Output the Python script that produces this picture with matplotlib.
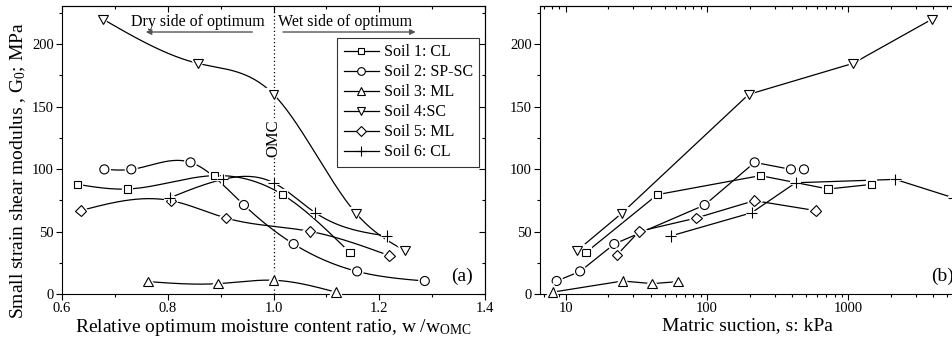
import numpy as np
import matplotlib
matplotlib.use("Agg")
import matplotlib.pyplot as plt
from matplotlib.lines import Line2D
from matplotlib.ticker import MultipleLocator, FormatStrFormatter
import matplotlib.patheffects as pe

plt.rcParams["font.family"] = ["Liberation Serif", "DejaVu Serif"]
plt.rcParams["mathtext.fontset"] = "custom"
plt.rcParams["mathtext.rm"] = "Liberation Serif"
plt.rcParams["mathtext.it"] = "Liberation Serif:italic"

# --- datos: G0 (MPa) vs w/wOMC ---
labels = ["Soil 1: CL", "Soil 2: SP-SC", "Soil 3: ML", "Soil 4:SC", "Soil 5: ML", "Soil 6: CL"]
markers = ["s", "o", "^", "v", "D", "+"]
msizes = [5.5, 6.5, 7, 7, 5.5, 8]

w1 = [0.629, 0.724, 0.888, 1.017, 1.144]
g1 = [87.7, 84.0, 94.7, 79.5, 33.3]
w2 = [0.680, 0.731, 0.843, 0.944, 1.038, 1.158, 1.286]
g2 = [99.7, 99.7, 105.3, 71.2, 40.0, 18.1, 10.4]
w3 = [0.763, 0.895, 1.000, 1.118]
g3 = [9.9, 8.3, 11.0, 1.5]
w4 = [0.678, 0.857, 1.000, 1.156, 1.248]
g4 = [219.7, 184.5, 159.7, 64.5, 34.7]
w5 = [0.635, 0.806, 0.910, 1.069, 1.219]
g5 = [66.7, 74.7, 60.8, 50.1, 30.7]
w6 = [0.804, 0.904, 1.000, 1.079, 1.214]
g6 = [77.0, 91.7, 89.0, 65.0, 46.4]

# --- datos: G0 (MPa) vs succion matricial (kPa) ---
s1 = [13.9, 44.4, 238, 721, 1462]
h1 = [33.3, 79.5, 94.7, 84.0, 87.7]
s2 = [8.6, 12.6, 22.0, 96.0, 217, 392, 485]
h2 = [10.4, 18.1, 40.0, 71.2, 105.3, 99.7, 99.7]
s3 = [8.05, 25.2, 40.8, 62.1]
h3 = [1.5, 10.4, 8.3, 9.9]
s4 = [12.0, 24.8, 197, 1079, 3890]
h4 = [34.7, 64.5, 159.7, 184.5, 219.7]
s5 = [23.0, 33.0, 83.8, 216, 589]
h5 = [31.2, 50.1, 60.8, 74.7, 66.7]
s6 = [55.1, 206.5, 423, 2150, 5530]
h6 = [46.4, 65.0, 89.0, 91.7, 77.0]

ratio_data = [(w1, g1), (w2, g2), (w3, g3), (w4, g4), (w5, g5), (w6, g6)]
suction_data = [(s1, h1), (s2, h2), (s3, h3), (s4, h4), (s5, h5), (s6, h6)]


def spline(x, y, n=300):
    # spline cubica natural para la curva suavizada (como Origin)
    x = np.asarray(x, float)
    y = np.asarray(y, float)
    h = np.diff(x)
    m = len(x)
    A = np.zeros((m, m))
    b = np.zeros(m)
    A[0, 0] = A[-1, -1] = 1
    for i in range(1, m - 1):
        A[i, i - 1] = h[i - 1]
        A[i, i] = 2 * (h[i - 1] + h[i])
        A[i, i + 1] = h[i]
        b[i] = 3 * ((y[i + 1] - y[i]) / h[i] - (y[i] - y[i - 1]) / h[i - 1])
    c = np.linalg.solve(A, b)
    bb = (y[1:] - y[:-1]) / h - h * (2 * c[:-1] + c[1:]) / 3
    d = (c[1:] - c[:-1]) / (3 * h)
    xs = np.linspace(x[0], x[-1], n)
    idx = np.clip(np.searchsorted(x, xs) - 1, 0, m - 2)
    dx = xs - x[idx]
    return xs, y[idx] + bb[idx] * dx + c[idx] * dx ** 2 + d[idx] * dx ** 3


def draw_markers(ax, x, y, mk, ms):
    ax.plot(x, y, linestyle="none", marker=mk, ms=ms, mfc="white", mec="black",
            mew=0.8, clip_on=False, zorder=4,
            path_effects=[pe.Stroke(linewidth=3, foreground="white"), pe.Normal()])


def style_axes(ax):
    ax.tick_params(which="both", direction="out", labelsize=10.5, width=0.8, pad=2)
    ax.tick_params(which="major", length=4)
    ax.tick_params(which="minor", length=2.5)
    for sp in ax.spines.values():
        sp.set_linewidth(0.8)


fig = plt.figure(figsize=(9.53, 3.45), dpi=100)
ax1 = fig.add_axes([0.0651, 0.1478, 0.4439, 0.8348])
ax2 = fig.add_axes([0.5666, 0.1478, 0.4355, 0.8348])

# --- (a) ---
for (x, y), mk, ms in zip(ratio_data, markers, msizes):
    xs, ys = spline(x, y)
    ax1.plot(xs, ys, color="black", lw=0.9, zorder=3)
    draw_markers(ax1, x, y, mk, ms)

ax1.axvline(1.0, color="black", lw=0.9, ls=(0, (1, 2)), zorder=1)
ax1.text(1.0, 125, "OMC", rotation=90, ha="center", va="center", fontsize=12,
         bbox=dict(facecolor="white", edgecolor="none", pad=0.5), zorder=2)
ax1.text(0.857, 218, "Dry side of optimum", ha="center", va="center", fontsize=11.5)
ax1.text(1.135, 218, "Wet side of optimum", ha="center", va="center", fontsize=11.5)
ax1.annotate("", xy=(0.753, 209.6), xytext=(0.965, 209.6),
             arrowprops=dict(arrowstyle="-|>", color="#555555", lw=1.0, mutation_scale=8))
ax1.annotate("", xy=(1.274, 209.6), xytext=(1.0125, 209.6),
             arrowprops=dict(arrowstyle="-|>", color="#555555", lw=1.0, mutation_scale=8))
ax1.text(0.946, 0.0625, "(a)", transform=ax1.transAxes, ha="center", va="center", fontsize=14)

ax1.set_xlim(0.6, 1.4)
ax1.set_ylim(0, 230.4)
ax1.xaxis.set_major_locator(MultipleLocator(0.2))
ax1.xaxis.set_minor_locator(MultipleLocator(0.1))
ax1.xaxis.set_major_formatter(FormatStrFormatter("%.1f"))
ax1.yaxis.set_major_locator(MultipleLocator(50))
ax1.yaxis.set_minor_locator(MultipleLocator(25))
style_axes(ax1)
ax1.set_xlabel(r"Relative optimum moisture content ratio, w /w$_{\mathrm{OMC}}$", fontsize=14, labelpad=1)
ax1.set_ylabel(r"Small strain shear modulus , G$_0$; MPa", fontsize=14)
ax1.yaxis.set_label_coords(-0.08, 0.43)

handles = [Line2D([], [], color="black", lw=0.9, marker=mk, ms=ms * 0.85, mfc="white",
                  mec="black", mew=0.8) for mk, ms in zip(markers, msizes)]
leg = ax1.legend(handles, labels, loc="upper right", bbox_to_anchor=(0.986, 0.889),
                 borderaxespad=0, fontsize=11.5, frameon=True, fancybox=False,
                 labelspacing=0.25, handlelength=2.2, handletextpad=0.3, borderpad=0.4)
leg.get_frame().set_edgecolor("black")
leg.get_frame().set_linewidth(0.8)

# --- (b) ---
for (x, y), mk, ms in zip(suction_data, markers, msizes):
    ax2.plot(x, y, color="black", lw=0.9, zorder=3)
    draw_markers(ax2, x, y, mk, ms)

ax2.set_xscale("log")
ax2.set_xlim(6.55, 5690)
ax2.set_ylim(0, 230.4)
ax2.yaxis.set_major_locator(MultipleLocator(50))
ax2.yaxis.set_minor_locator(MultipleLocator(25))
ax2.xaxis.set_major_formatter(FormatStrFormatter("%d"))
style_axes(ax2)
ax2.spines["right"].set_visible(False)
ax2.set_xlabel("Matric suction, s: kPa", fontsize=14, labelpad=1)
ax2.text(0.969, 0.0625, "(b)", transform=ax2.transAxes, ha="center", va="center", fontsize=14)

# ticks hacia adentro en los ejes opuestos
for ax, right in [(ax1, True), (ax2, False)]:
    top = ax.secondary_xaxis("top")
    top.tick_params(which="both", direction="in", labeltop=False, width=0.8)
    top.tick_params(which="major", length=4)
    top.tick_params(which="minor", length=2.5)
    if ax is ax1:
        top.xaxis.set_major_locator(MultipleLocator(0.2))
        top.xaxis.set_minor_locator(MultipleLocator(0.1))
    if right:
        rt = ax.secondary_yaxis("right")
        rt.tick_params(which="both", direction="in", labelright=False, width=0.8)
        rt.tick_params(which="major", length=4)
        rt.tick_params(which="minor", length=2.5)
        rt.yaxis.set_major_locator(MultipleLocator(50))
        rt.yaxis.set_minor_locator(MultipleLocator(25))

fig.savefig("out.png", dpi=100)
